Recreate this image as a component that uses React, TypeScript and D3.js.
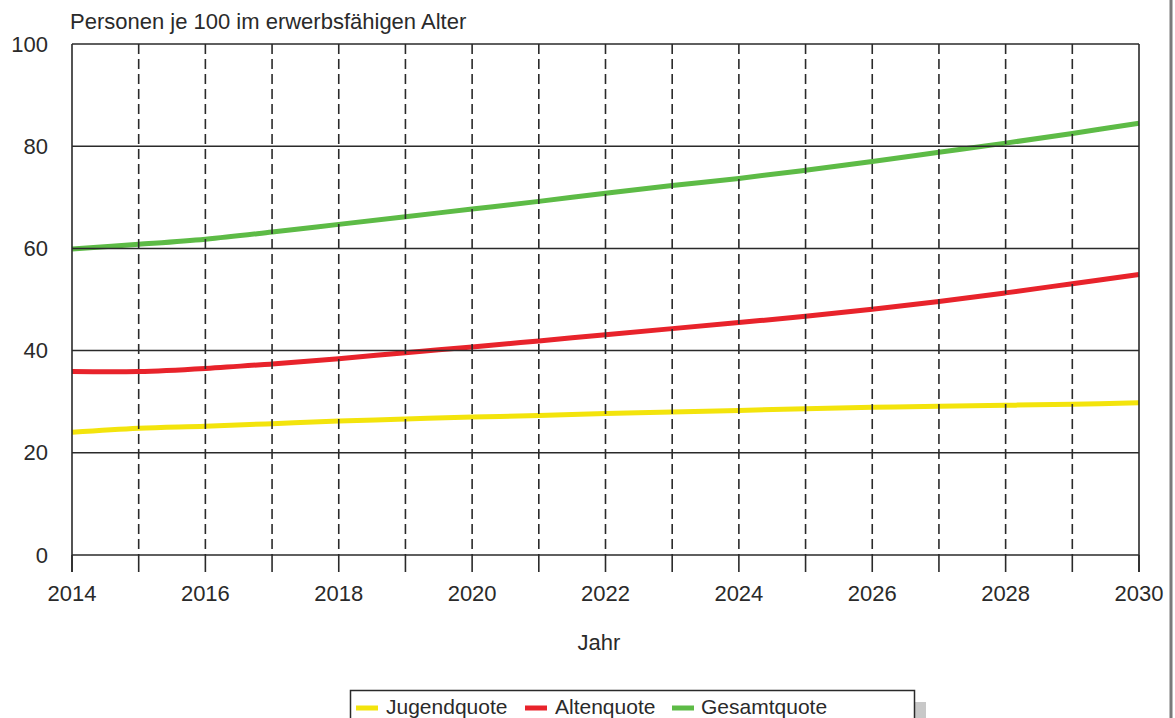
import React from "react";
import * as d3 from "d3";

const years = [2014, 2015, 2016, 2017, 2018, 2019, 2020, 2021, 2022, 2023, 2024, 2025, 2026, 2027, 2028, 2029, 2030];
const jugendquote = [24.0, 24.8, 25.2, 25.7, 26.2, 26.6, 27.0, 27.3, 27.7, 28.0, 28.3, 28.6, 28.9, 29.1, 29.3, 29.5, 29.8];
const altenquote = [35.9, 35.9, 36.5, 37.4, 38.4, 39.6, 40.7, 41.9, 43.1, 44.3, 45.5, 46.7, 48.1, 49.6, 51.3, 53.1, 54.9];
const gesamtquote = [59.9, 60.8, 61.8, 63.2, 64.7, 66.2, 67.7, 69.2, 70.8, 72.3, 73.7, 75.3, 77.0, 78.8, 80.6, 82.5, 84.5];
const yTicks = [0, 20, 40, 60, 80, 100];
const xLabelYears = [2014, 2016, 2018, 2020, 2022, 2024, 2026, 2028, 2030];

const series = [
  { name: "Jugendquote", values: jugendquote, color: "#f3e40c" },
  { name: "Altenquote", values: altenquote, color: "#e8232b" },
  { name: "Gesamtquote", values: gesamtquote, color: "#5dbb46" },
];

const font = "'Liberation Sans', Arial, sans-serif";
const ink = "#2a2a2a";

export default function App() {
  const left = 72, right = 1139, top = 44, bottom = 555;
  const x = d3.scaleLinear().domain([2014, 2030]).range([left, right]);
  const y = d3.scaleLinear().domain([0, 100]).range([bottom, top]);
  const line = d3
    .line<number>()
    .x((_, i) => x(years[i]))
    .y((d) => y(d))
    .curve(d3.curveCatmullRom.alpha(0.5));

  const legendItems = [
    { sx: 356, tx: 386 },
    { sx: 525, tx: 555 },
    { sx: 672, tx: 701 },
  ];

  return (
    <svg
      width={1175}
      height={718}
      style={{ position: "absolute", left: 0, top: 0, background: "#fff" }}
    >
      <rect x={0} y={0} width={1175} height={718} fill="#fff" />
      {/* title */}
      <text x={70} y={29} fontFamily={font} fontSize={22} fill={ink}>
        Personen je 100 im erwerbsfähigen Alter
      </text>

      {/* series */}
      {series.map((s) => (
        <path
          key={s.name}
          d={line(s.values) || ""}
          fill="none"
          stroke={s.color}
          strokeWidth={5}
          strokeLinecap="butt"
        />
      ))}

      {/* horizontal grid */}
      {yTicks.map((t) => (
        <line
          key={"h" + t}
          x1={left}
          x2={right}
          y1={y(t)}
          y2={y(t)}
          stroke={ink}
          strokeWidth={1.5}
        />
      ))}
      {/* vertical dashed */}
      {years.slice(1, -1).map((yr) => (
        <line
          key={"v" + yr}
          x1={x(yr)}
          x2={x(yr)}
          y1={top}
          y2={bottom}
          stroke={ink}
          strokeWidth={1.6}
          strokeDasharray="10,5"
        />
      ))}
      {/* frame sides */}
      <line x1={left} x2={left} y1={top} y2={bottom + 17} stroke={ink} strokeWidth={1.6} />
      <line x1={right} x2={right} y1={top} y2={bottom + 17} stroke={ink} strokeWidth={1.6} />
      {/* ticks below axis */}
      {years.map((yr) => (
        <line
          key={"t" + yr}
          x1={x(yr)}
          x2={x(yr)}
          y1={bottom}
          y2={bottom + 17}
          stroke={ink}
          strokeWidth={1.6}
        />
      ))}

      {/* y labels */}
      {yTicks.map((t) => (
        <text
          key={"yl" + t}
          x={48}
          y={y(t) + 7.5}
          textAnchor="end"
          fontFamily={font}
          fontSize={22}
          fill={ink}
        >
          {t}
        </text>
      ))}
      {/* x labels */}
      {xLabelYears.map((yr) => (
        <text
          key={"xl" + yr}
          x={x(yr)}
          y={601}
          textAnchor="middle"
          fontFamily={font}
          fontSize={22}
          fill={ink}
        >
          {yr}
        </text>
      ))}
      <text x={599} y={650} textAnchor="middle" fontFamily={font} fontSize={22} fill={ink}>
        Jahr
      </text>

      {/* right border */}
      <line x1={1171} x2={1171} y1={0} y2={718} stroke="#7a7a7a" strokeWidth={3} />

      {/* legend */}
      <rect x={915} y={702} width={11} height={30} fill="#c8c8c8" />
      <rect x={350.5} y={690.5} width={564} height={45} fill="#fff" stroke={ink} strokeWidth={1.5} />
      {series.map((s, i) => (
        <g key={"lg" + s.name}>
          <line
            x1={legendItems[i].sx}
            x2={legendItems[i].sx + 22}
            y1={708}
            y2={708}
            stroke={s.color}
            strokeWidth={5}
          />
          <text x={legendItems[i].tx} y={714} fontFamily={font} fontSize={21} fill={ink}>
            {s.name}
          </text>
        </g>
      ))}
    </svg>
  );
}
